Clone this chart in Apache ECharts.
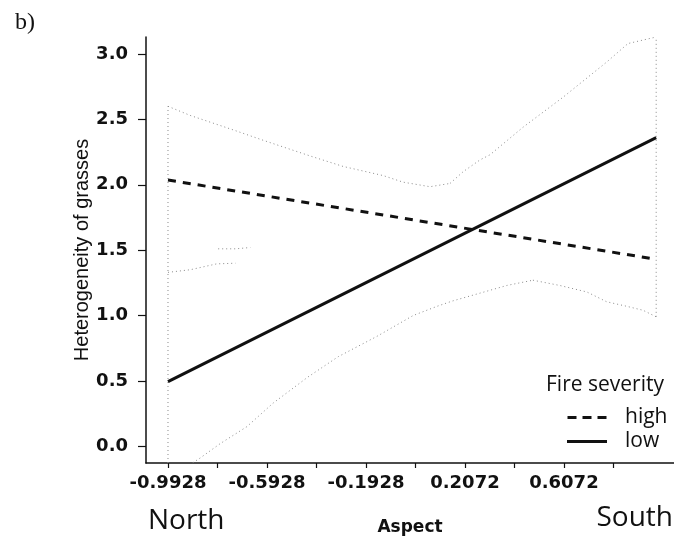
<!DOCTYPE html>
<html>
<head>
<meta charset="utf-8">
<script src="https://cdn.jsdelivr.net/npm/echarts@6/dist/echarts.min.js"></script>
<style>
html,body{margin:0;padding:0;background:#fff;}
#chart{width:674px;height:541px;}
</style>
</head>
<body>
<div id="chart"></div>
<script>
// ---- data ----
var aspectEnds = [-0.9928, 0.98];           // aspect range of the fitted lines
var highFit = [2.036, 1.43];               // fire severity high (dashed)
var lowFit = [0.494, 2.36];                // fire severity low (solid)

// confidence band outlines (visible parts)
var highUpperX = [-0.9928, -0.903, -0.73, -0.608, -0.418, -0.285, -0.123, -0.043, 0.066, 0.147];
var highUpperY = [2.60, 2.53, 2.42, 2.34, 2.22, 2.14, 2.07, 2.02, 1.985, 2.01];
var lowUpperX = [0.147, 0.20, 0.268, 0.309, 0.442, 0.604, 0.781, 0.866, 0.98];
var lowUpperY = [2.01, 2.10, 2.19, 2.23, 2.44, 2.67, 2.94, 3.08, 3.13];
var lowLowerX = [-0.92, -0.863, -0.782, -0.674, -0.568, -0.427, -0.305, -0.149, -0.002, 0.094, 0.155, 0.377, 0.482];
var lowLowerY = [-0.16, -0.09, 0.02, 0.15, 0.33, 0.53, 0.685, 0.84, 1.0, 1.07, 1.11, 1.23, 1.27];
var highLowerX = [0.482, 0.59, 0.70, 0.78, 0.862, 0.927, 0.98];
var highLowerY = [1.27, 1.23, 1.18, 1.105, 1.07, 1.04, 0.99];
var lowUpperLeftX = [-0.9928, -0.903, -0.796, -0.72];
var lowUpperLeftY = [1.33, 1.35, 1.395, 1.40];
var highLowerLeftX = [-0.79, -0.72, -0.66];
var highLowerLeftY = [1.51, 1.51, 1.52];
var leftEdgeY = [-0.128, 2.60];
var rightEdgeY = [0.99, 3.13];

// tick labels
var xTickValues = [-0.9928, -0.7928, -0.5928, -0.3928, -0.1928, 0.0072, 0.2072, 0.4072, 0.6072, 0.8072];
var xLabelValues = [-0.9928, -0.5928, -0.1928, 0.2072, 0.6072];
var yTickValues = [0.0, 0.5, 1.0, 1.5, 2.0, 2.5, 3.0];

function pairs(xs, ys) { return xs.map(function (x, i) { return [x, ys[i]]; }); }

var ciStyle = { color: '#8a8a8a', width: 1, type: [1, 3] };
function ciSeries(name, data) {
  return { name: name, type: 'line', data: data, symbol: 'none', silent: true,
    lineStyle: ciStyle, z: 1 };
}

var chart = echarts.init(document.getElementById('chart'), null, { renderer: 'canvas' });
chart.setOption({
  animation: false,
  backgroundColor: '#fff',
  title: [
    { text: 'b)', left: 10, top: 6, textStyle: { fontFamily: 'Liberation Serif', fontSize: 24, fontWeight: 'normal', color: '#111' } },
    { text: 'Fire severity', left: 541, top: 370, textStyle: { fontFamily: 'Open Sans', fontSize: 21, fontWeight: 'normal', color: '#111' } }
  ],
  legend: {
    orient: 'vertical', left: 562, top: 402,
    itemWidth: 40, itemHeight: 3, itemGap: 3,
    data: [
      { name: 'high', icon: 'path://M0,0H9V3H0Z M15,0H24V3H15Z M30,0H39V3H30Z' },
      { name: 'low', icon: 'rect' }
    ],
    textStyle: { fontFamily: 'Open Sans', fontSize: 21, color: '#111', padding: [0, 0, 0, 13] }
  },
  grid: { left: 146, right: 0, top: 37, bottom: 78, containLabel: false },
  xAxis: {
    type: 'value', min: -1.0817, max: 1.052,
    name: 'Aspect', nameLocation: 'middle', nameGap: 56, nameMoveOverlap: false,
    nameTextStyle: { fontFamily: 'DejaVu Sans', fontWeight: 'bold', fontSize: 17, color: '#111' },
    splitLine: { show: false },
    axisLine: { show: true, onZero: false, lineStyle: { color: '#111', width: 1.5 } },
    axisTick: { show: true, length: 5, customValues: xTickValues, lineStyle: { color: '#111', width: 1.2 } },
    axisLabel: { customValues: xLabelValues, margin: 11, fontFamily: 'DejaVu Sans', fontWeight: 'bold', fontSize: 18, color: '#111',
      formatter: function (v) { return v.toFixed(4); } }
  },
  yAxis: {
    type: 'value', min: -0.128, max: 3.13,
    name: 'Heterogeneity of grasses', nameLocation: 'middle', nameGap: 54, nameRotate: 90, nameMoveOverlap: false,
    nameTextStyle: { fontFamily: 'Liberation Sans', fontSize: 20, color: '#111' },
    splitLine: { show: false },
    axisLine: { show: true, onZero: false, lineStyle: { color: '#111', width: 1.5 } },
    axisTick: { show: true, length: 8, customValues: yTickValues, lineStyle: { color: '#111', width: 1.2 } },
    axisLabel: { customValues: yTickValues, margin: 18, fontFamily: 'DejaVu Sans', fontWeight: 'bold', fontSize: 18, color: '#111',
      formatter: function (v) { return v.toFixed(1); } }
  },
  graphic: [
    { type: 'text', left: 148, top: 507, style: { text: 'North', font: '28px "Open Sans"', fill: '#111' } },
    { type: 'text', right: 1, top: 504, style: { text: 'South', font: '28px "Open Sans"', fill: '#111' } }
  ],
  series: [
    ciSeries('ci1', pairs(highUpperX, highUpperY)),
    ciSeries('ci2', pairs(lowUpperX, lowUpperY)),
    ciSeries('ci3', pairs(lowLowerX, lowLowerY)),
    ciSeries('ci4', pairs(highLowerX, highLowerY)),
    ciSeries('ci5', pairs(lowUpperLeftX, lowUpperLeftY)),
    ciSeries('ci6', pairs(highLowerLeftX, highLowerLeftY)),
    ciSeries('ci7', [[aspectEnds[0], leftEdgeY[0]], [aspectEnds[0], leftEdgeY[1]]]),
    ciSeries('ci8', [[aspectEnds[1], rightEdgeY[0]], [aspectEnds[1], rightEdgeY[1]]]),
    { name: 'high', type: 'line', symbol: 'none', z: 3,
      data: pairs(aspectEnds, highFit),
      lineStyle: { color: '#111', width: 3, type: [8, 7] }, itemStyle: { color: '#111' } },
    { name: 'low', type: 'line', symbol: 'none', z: 3,
      data: pairs(aspectEnds, lowFit),
      lineStyle: { color: '#111', width: 3, type: 'solid' }, itemStyle: { color: '#111' } }
  ]
});
</script>
</body>
</html>
